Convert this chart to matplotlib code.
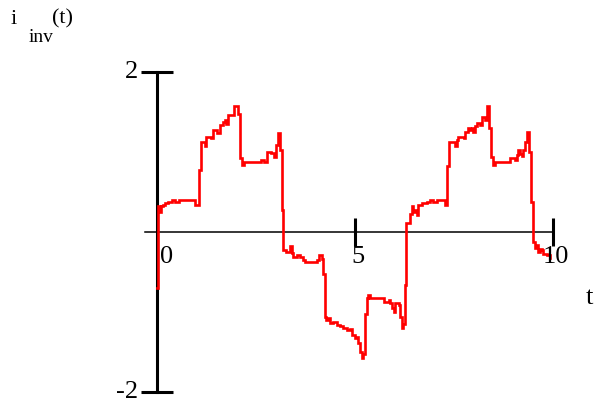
import matplotlib
matplotlib.use("Agg")
import matplotlib.pyplot as plt

# inverter current, sampled levels (start time of each step, value)
t_step = [0.00, 0.03, 0.08, 0.11, 0.14, 0.21, 0.29, 0.38, 0.46, 0.55, 0.97,
          1.07, 1.12, 1.20, 1.24, 1.37, 1.41, 1.52, 1.58, 1.67, 1.71, 1.75,
          1.79, 1.95, 2.05, 2.09, 2.14, 2.19, 2.62, 2.70, 2.78, 2.87, 2.95,
          3.01, 3.05, 3.10, 3.15, 3.18, 3.27, 3.36, 3.40, 3.44, 3.53, 3.61,
          3.69, 3.74, 4.03, 4.10, 4.16, 4.20, 4.24, 4.28, 4.33, 4.37, 4.45,
          4.54, 4.62, 4.70, 4.79, 4.87, 4.92, 5.00, 5.04, 5.08, 5.13, 5.17,
          5.21, 5.25, 5.31, 5.34, 5.38, 5.73, 5.85, 5.89, 5.94, 5.98, 6.02,
          6.10, 6.14, 6.18, 6.22, 6.26, 6.30, 6.39, 6.43, 6.47, 6.52, 6.56,
          6.60, 6.68, 6.81, 6.89, 6.98, 7.06, 7.27, 7.33, 7.38, 7.53, 7.57,
          7.61, 7.74, 7.78, 7.86, 7.90, 7.95, 7.99, 8.03, 8.07, 8.16, 8.20,
          8.28, 8.33, 8.39, 8.43, 8.49, 8.54, 8.91, 9.04, 9.08, 9.12, 9.17,
          9.21, 9.25, 9.29, 9.35, 9.39, 9.44, 9.50, 9.55, 9.59, 9.63, 9.67,
          9.71, 9.76, 9.84, 9.92]
i_step = [-0.70, 0.32, 0.25, 0.32, 0.34, 0.36, 0.38, 0.40, 0.38, 0.40, 0.34,
          0.78, 1.13, 1.07, 1.19, 1.17, 1.27, 1.24, 1.34, 1.37, 1.40, 1.35,
          1.46, 1.57, 1.47, 0.92, 0.84, 0.88, 0.90, 0.88, 1.00, 0.99, 0.94,
          1.09, 1.24, 1.03, 0.27, -0.22, -0.25, -0.18, -0.26, -0.31, -0.29, -0.31,
          -0.35, -0.37, -0.35, -0.29, -0.34, -0.52, -1.06, -1.10, -1.08, -1.14, -1.12,
          -1.16, -1.18, -1.20, -1.23, -1.21, -1.29, -1.33, -1.31, -1.39, -1.50, -1.58,
          -1.53, -1.02, -0.83, -0.79, -0.82, -0.87, -0.85, -0.89, -0.95, -1.00, -0.89,
          -0.91, -1.06, -1.20, -1.15, -0.66, 0.11, 0.23, 0.32, 0.25, 0.28, 0.21,
          0.34, 0.36, 0.38, 0.40, 0.38, 0.40, 0.34, 0.82, 1.13, 1.07, 1.15,
          1.19, 1.17, 1.25, 1.30, 1.27, 1.30, 1.25, 1.33, 1.36, 1.34, 1.44,
          1.40, 1.57, 1.30, 0.94, 0.84, 0.88, 0.92, 0.90, 0.96, 1.03, 0.97,
          0.95, 1.03, 1.13, 1.25, 1.00, 0.38, -0.12, -0.20, -0.16, -0.25, -0.21,
          -0.23, -0.27, -0.29, -0.33]

x_ticks = [5, 10]
x_labels = ["0", "5", "10"]
y_ticks = [-2, 2]
y_labels = ["-2", "2"]

plt.rcParams['font.family'] = ['Liberation Serif', 'DejaVu Serif']

fig = plt.figure(figsize=(5.95, 4.12), dpi=100)
ax = fig.add_axes([0, 0, 1, 1])
# 39.6 px per unit of t, 80 px per unit of current, origin at (157, 232)
ax.set_xlim(-157 / 39.6, (595 - 157) / 39.6)
ax.set_ylim((232 - 412) / 80, 232 / 80)

ax.plot(t_step, i_step, color='#ff0000', lw=1.9, drawstyle='steps-post',
        solid_joinstyle='miter', zorder=3)

for s in ['top', 'right']:
    ax.spines[s].set_visible(False)
ax.spines['left'].set_position(('data', 0))
ax.spines['left'].set_bounds(y_ticks[0], y_ticks[-1])
ax.spines['left'].set_linewidth(2.2)
ax.spines['bottom'].set_position(('data', 0))
ax.spines['bottom'].set_bounds(-0.3, x_ticks[-1])
ax.spines['bottom'].set_linewidth(1.1)

ax.set_xticks(x_ticks)
ax.set_yticks(y_ticks)
ax.tick_params(axis='x', direction='inout', length=20, width=2.2,
               labelbottom=False)
ax.tick_params(axis='y', direction='inout', length=23, width=2.2,
               labelleft=False)

fs = 19
for v, lab in zip(y_ticks, y_labels):
    ax.text(-0.48, v, lab, ha='right', va='center', fontsize=fs)
ax.text(0.25, -0.17, x_labels[0], ha='center', va='top', fontsize=fs)
for v, lab in zip(x_ticks, x_labels[1:]):
    ax.text(v + 0.08, -0.17, lab, ha='center', va='top', fontsize=fs)
ax.text(10.93, -0.83, "t", ha='center', va='center', fontsize=fs)

fig.text(11 / 595, 1 - 19 / 412, "i", ha='left', va='center', fontsize=16)
fig.text(29 / 595, 1 - 38 / 412, "inv", ha='left', va='center', fontsize=14)
fig.text(52 / 595, 1 - 19 / 412, "(t)", ha='left', va='center', fontsize=16)

fig.savefig("out.png", dpi=100)
